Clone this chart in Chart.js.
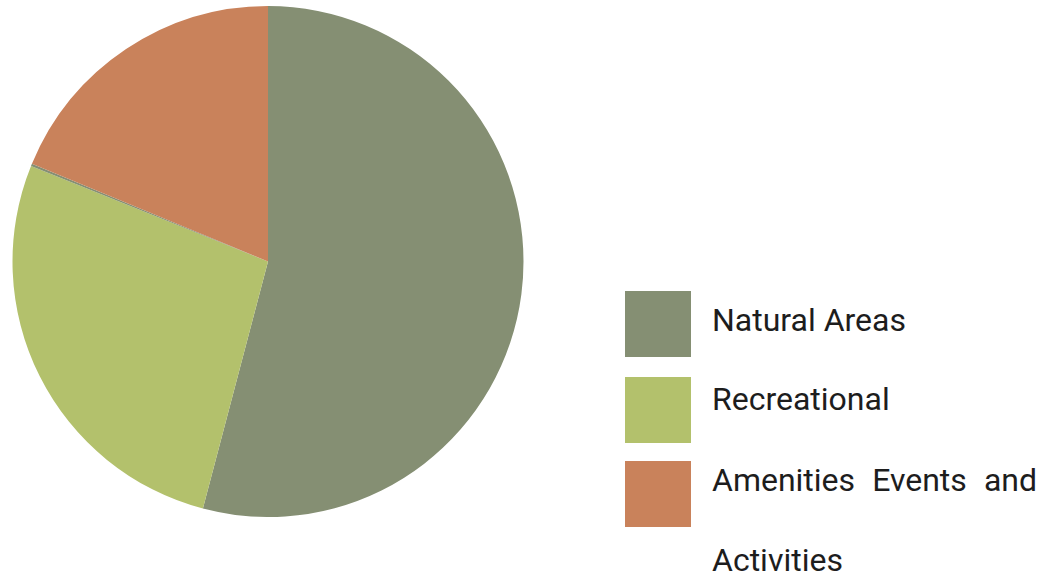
<!DOCTYPE html>
<html>
<head>
<meta charset="utf-8">
<script src="https://cdn.jsdelivr.net/npm/chart.js@4.4.1/dist/chart.umd.min.js"></script>
<style>
  html, body { margin: 0; padding: 0; background: #fff; }
  body { width: 1046px; height: 572px; position: relative; overflow: hidden; font-family: Roboto, "Noto Sans", sans-serif; }
  #wrap { position: absolute; left: 12px; top: 6px; width: 512px; height: 511px; }
  .item { position: absolute; left: 625px; }
  .box { position: absolute; left: 0; top: 0; width: 66px; height: 66px; }
  .txt { position: absolute; left: 87px; width: 325px; font-size: 32px; line-height: 80px; color: #1d1d1d; text-align: justify; }
</style>
</head>
<body>
<div id="wrap"><canvas id="pieChart"></canvas></div>
<div id="legend"></div>
<script>
// Chart data
const categories = ['Natural Areas', 'Recreational', '', 'Amenities Events and Activities'];
const values = [54.1, 27.0, 0.15, 18.75];
const colors = ['#858f73', '#b3c16c', '#858f73', '#c9825b'];

// legend layout (tiny slice has no entry)
const legendTops = [291, 377, 461];
const textOffsets = [-11, -18, -21];

const ctx = document.getElementById('pieChart').getContext('2d');

let chart = new Chart(ctx, {
    type: 'pie',
    data: {
        labels: categories,
        datasets: [{
            data: values,
            backgroundColor: colors,
            borderWidth: 0
        }]
    },
    options: {
        responsive: true,
        maintainAspectRatio: false,
        animation: false,
        layout: { padding: 0 },
        plugins: {
            legend: { display: false },
            tooltip: { enabled: false }
        }
    }
});

// Build the legend by hand so the long label can wrap
const legend = document.getElementById('legend');
let row = 0;
categories.forEach((name, i) => {
    if (!name) return;
    const item = document.createElement('div');
    item.className = 'item';
    item.style.top = legendTops[row] + 'px';
    const box = document.createElement('div');
    box.className = 'box';
    box.style.background = colors[i];
    const txt = document.createElement('div');
    txt.className = 'txt';
    txt.style.top = textOffsets[row] + 'px';
    txt.textContent = name;
    item.appendChild(box);
    item.appendChild(txt);
    legend.appendChild(item);
    row++;
});
</script>
</body>
</html>
